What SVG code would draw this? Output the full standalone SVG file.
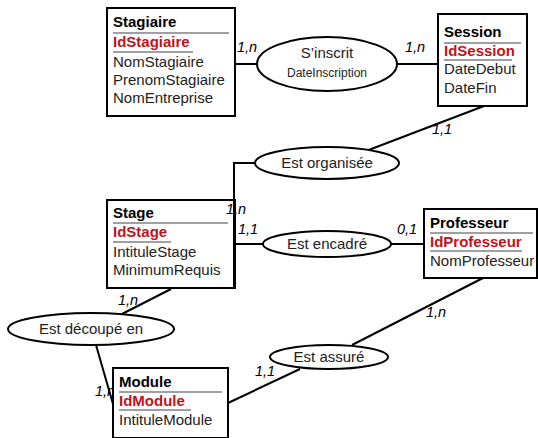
<svg xmlns="http://www.w3.org/2000/svg" width="538" height="438" viewBox="0 0 538 438">
<style>
.box{fill:#fff;stroke:#000;stroke-width:2}
.ell{fill:#fff;stroke:#000;stroke-width:2}
.sep{stroke:#808080;stroke-width:1.5}
.t{font-family:"Liberation Sans",Arial,sans-serif;font-size:15px;fill:#222}
.b{font-weight:bold;fill:#000}
.id{font-weight:bold;fill:#c0141c}
.c{text-anchor:middle}
.sm{font-size:12px}
.card{font-family:"Liberation Sans",Arial,sans-serif;font-size:14.5px;font-style:italic;fill:#000}
.ln{stroke:#000;stroke-width:2;fill:none}
</style>
<rect width="538" height="438" fill="#fff"/>
<g id="labels-under">
<text class="card" x="95" y="396">1,n</text>
</g>
<g id="Stagiaire">
<rect class="box" x="107" y="8" width="128" height="108"/>
<text class="t b" x="113" y="27">Stagiaire</text>
<line class="sep" x1="113" y1="33" x2="229" y2="33"/>
<text class="t id" x="113" y="47">IdStagiaire</text>
<line class="sep" x1="113" y1="52" x2="193" y2="52"/>
<text class="t" x="113" y="67">NomStagiaire</text>
<text class="t" x="113" y="85">PrenomStagiaire</text>
<text class="t" x="113" y="103">NomEntreprise</text>
</g>
<g id="Session">
<rect class="box" x="438" y="14" width="89" height="92"/>
<text class="t b" x="444" y="37">Session</text>
<line class="sep" x1="444" y1="43" x2="521" y2="43"/>
<text class="t id" x="444" y="56">IdSession</text>
<line class="sep" x1="444" y1="60" x2="512" y2="60"/>
<text class="t" x="444" y="74">DateDebut</text>
<text class="t" x="444" y="93">DateFin</text>
</g>
<g id="Stage">
<rect class="box" x="107" y="200" width="128" height="88"/>
<text class="t b" x="113" y="218">Stage</text>
<line class="sep" x1="113" y1="223" x2="228" y2="223"/>
<text class="t id" x="113" y="237">IdStage</text>
<line class="sep" x1="113" y1="242" x2="171" y2="242"/>
<text class="t" x="113" y="257">IntituleStage</text>
<text class="t" x="113" y="275">MinimumRequis</text>
</g>
<g id="Professeur">
<rect class="box" x="424" y="209" width="113" height="69"/>
<text class="t b" x="430" y="228">Professeur</text>
<line class="sep" x1="430" y1="233" x2="533" y2="233"/>
<text class="t id" x="430" y="247">IdProfesseur</text>
<line class="sep" x1="430" y1="251" x2="522" y2="251"/>
<text class="t" x="430" y="266">NomProfesseur</text>
</g>
<g id="Module">
<rect class="box" x="113" y="368" width="115" height="70"/>
<text class="t b" x="119" y="387">Module</text>
<line class="sep" x1="119" y1="392" x2="222" y2="392"/>
<text class="t id" x="119" y="406">IdModule</text>
<line class="sep" x1="119" y1="410" x2="191" y2="410"/>
<text class="t" x="119" y="425">IntituleModule</text>
</g>
<g id="cardinalities">
<text class="card" x="237" y="52">1,n</text>
<text class="card" x="405" y="52">1,n</text>
<text class="card" x="432" y="134">1,1</text>
<text class="card" x="226" y="214">1,n</text>
<text class="card" x="238" y="234">1,1</text>
<text class="card" x="397" y="234">0,1</text>
<text class="card" x="426" y="317">1,n</text>
<text class="card" x="118" y="305">1,n</text>
<text class="card" x="255" y="376">1,1</text>
</g>
<g id="connectors">
<line class="ln" x1="235" y1="64" x2="258" y2="64"/>
<line class="ln" x1="397" y1="64" x2="438" y2="64"/>
<line class="ln" x1="484" y1="106" x2="366" y2="151"/>
<polyline class="ln" points="256,163 234,163 234,288"/>
<line class="ln" x1="235" y1="244" x2="264" y2="244"/>
<line class="ln" x1="391" y1="244" x2="424" y2="244"/>
<line class="ln" x1="483" y1="278" x2="352" y2="345"/>
<line class="ln" x1="300" y1="369" x2="228" y2="403"/>
<line class="ln" x1="171" y1="289" x2="122" y2="314"/>
<line class="ln" x1="96" y1="345" x2="113" y2="404"/>
</g>
<g id="SInscrit">
<ellipse class="ell" cx="327" cy="64" rx="70" ry="27"/>
<text class="t c" x="327" y="58">S’inscrit</text>
<text class="t c sm" x="327" y="77">DateInscription</text>
</g>
<g id="EstOrganisee">
<ellipse class="ell" cx="327" cy="163" rx="72" ry="16"/>
<text class="t c" x="327" y="168">Est organisée</text>
</g>
<g id="EstEncadre">
<ellipse class="ell" cx="327" cy="244" rx="64" ry="13"/>
<text class="t c" x="327" y="249">Est encadré</text>
</g>
<g id="EstAssure">
<ellipse class="ell" cx="329" cy="357" rx="59" ry="12"/>
<text class="t c" x="329" y="362">Est assuré</text>
</g>
<g id="EstDecoupe">
<ellipse class="ell" cx="91" cy="329" rx="83" ry="16"/>
<text class="t c" x="91" y="334">Est découpé en</text>
</g>
</svg>
